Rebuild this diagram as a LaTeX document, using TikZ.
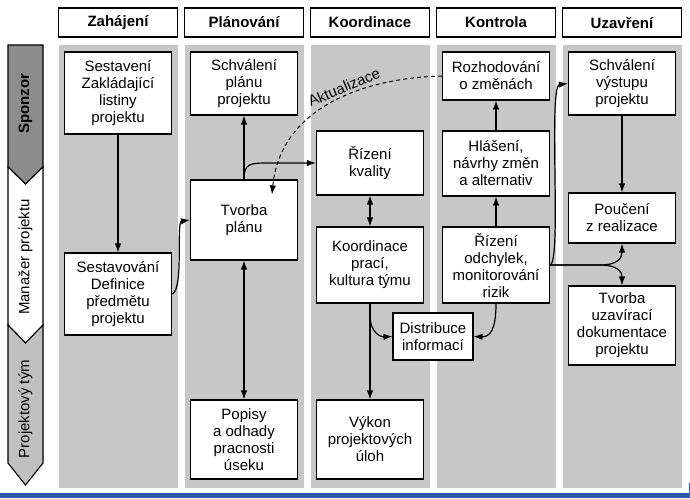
\documentclass[tikz,border=0pt]{standalone}
\usepackage{fontspec}
\setmainfont{Liberation Sans}
\usetikzlibrary{arrows.meta}
\definecolor{colgrey}{RGB}{199,199,199}
\definecolor{sponzgrey}{RGB}{140,140,140}
\definecolor{teamgrey}{RGB}{192,192,192}
\definecolor{barblue}{RGB}{45,90,170}
\begin{document}
\begin{tikzpicture}[x=1pt,y=-1pt,>={Latex[length=9pt,width=6.5pt]},
  txt/.style={font=\fontsize{15}{17}\selectfont},
  box/.style={draw,line width=1.1pt,fill=white,minimum width=107pt,inner sep=0pt,align=center,txt},
  head/.style={draw,line width=1.1pt,fill=white,minimum width=119pt,minimum height=29pt,inner sep=0pt,font=\fontsize{15}{17}\selectfont\bfseries},
  lane/.style={draw,line width=1.1pt},
  conn/.style={line width=1.2pt,->}]
\useasboundingbox (0,0) rectangle (690,498);
\fill[colgrey] (58.5,45) rectangle (177.5,488);
\fill[colgrey] (184.5,45) rectangle (303.5,488);
\fill[colgrey] (310.5,45) rectangle (429.5,488);
\fill[colgrey] (436.5,45) rectangle (555.5,488);
\fill[colgrey] (562.5,45) rectangle (681.5,488);
\node[head] (hzah) at (118,22.5) {Zahájení};
\node[head] (hplan) at (244,22.5) {Plánování};
\node[head] (hkoord) at (370,22.5) {Koordinace};
\node[head] (hkontr) at (496,22.5) {Kontrola};
\node[head] (huzav) at (622,22.5) {Uzavření};
\draw[lane,fill=sponzgrey] (8,45) -- (43,45) -- (43,167) -- (25.5,184) -- (8,167) -- cycle;
\draw[lane,fill=white] (8,167) -- (25.5,184) -- (43,167) -- (43,325) -- (25.5,343) -- (8,325) -- cycle;
\draw[lane,fill=teamgrey] (8,325) -- (25.5,343) -- (43,325) -- (43,463) -- (25.5,485) -- (8,463) -- cycle;
\node[txt,rotate=90] (sponz) at (25.5,104) {\bfseries Sponzor};
\node[txt,rotate=90] (manaz) at (25.5,257) {Manažer projektu};
\node[txt,rotate=90] (tym) at (25.5,409) {Projektový tým};
\node[box,minimum height=82pt] (z1) at (118,93) {Sestavení\\Zakládající\\listiny\\projektu};
\node[box,minimum height=82pt] (z2) at (118,294) {Sestavování\\Definice\\předmětu\\projektu};
\node[box,minimum height=63pt] (p1) at (244,83.5) {Schválení\\plánu\\projektu};
\node[box,minimum height=80pt] (p2) at (244,220) {Tvorba\\plánu};
\node[box,minimum height=79pt] (p3) at (244,439.5) {Popisy\\a odhady\\pracnosti\\úseku};
\node[box,minimum height=64pt] (k1) at (370,163) {Řízení\\kvality};
\node[box,minimum height=76pt] (k2) at (370,265) {Koordinace\\prací,\\kultura týmu};
\node[box,minimum height=79pt] (k3) at (370,439.5) {Výkon\\projektových\\úloh};
\node[box,minimum width=80pt,minimum height=47pt] (dist) at (433,336.5) {Distribuce\\informací};
\node[box,minimum height=48pt] (c1) at (496,76) {Rozhodování\\o změnách};
\node[box,minimum height=65pt] (c2) at (496,163.5) {Hlášení,\\návrhy změn\\a alternativ};
\node[box,minimum height=76pt] (c3) at (496,265) {Řízení\\odchylek,\\monitorování\\rizik};
\node[box,minimum height=63pt] (u1) at (622,83.5) {Schválení\\výstupu\\projektu};
\node[box,minimum height=50pt] (u2) at (622,218) {Poučení\\z realizace};
\node[box,minimum height=79pt] (u3) at (622,325.5) {Tvorba\\uzavírací\\dokumentace\\projektu};
\draw[conn] (z1) -- (z2);
\draw[conn] (z2.east) .. controls (184,290) and (176,222) .. (p2.west);
\draw[conn] (p2) -- (p1);
\draw[conn,<->] (p2) -- (p3);
\draw[conn] (p2.north) .. controls (244,163) and (250,163) .. (270,163) -- (k1.west);
\draw[conn,<->] (k1) -- (k2);
\draw[conn] (k2) -- (k3);
\draw[conn] ([yshift=-12pt]k2.south) .. controls (370,332) and (380,337) .. (dist.west);
\draw[conn] (c3.south) .. controls (496,330) and (490,337) .. (dist.east);
\draw[conn] (c3) -- (c2);
\draw[conn] (c2) -- (c1);
\draw[conn] (c3.east) .. controls (562,262) and (548,86) .. (u1.west);
\draw[conn] (c3.east) -- (600,265) .. controls (618,265) and (622,258) .. (u2.south);
\draw[conn] (c3.east) -- (600,265) .. controls (618,265) and (622,272) .. (u3.north);
\draw[conn] (u1) -- (u2);
\draw[line width=1pt,dash pattern=on 4pt off 3pt,->] (c1.west) .. controls (360,78) and (280,110) .. ([xshift=28pt,yshift=-15pt]p2.north);
\node[txt,rotate=23] (akt) at (344,87) {Aktualizace};
\fill[barblue] (0,493) rectangle (690,498);
\draw[barblue,line width=1pt] (689,483) -- (689,493);
\end{tikzpicture}
\end{document}
